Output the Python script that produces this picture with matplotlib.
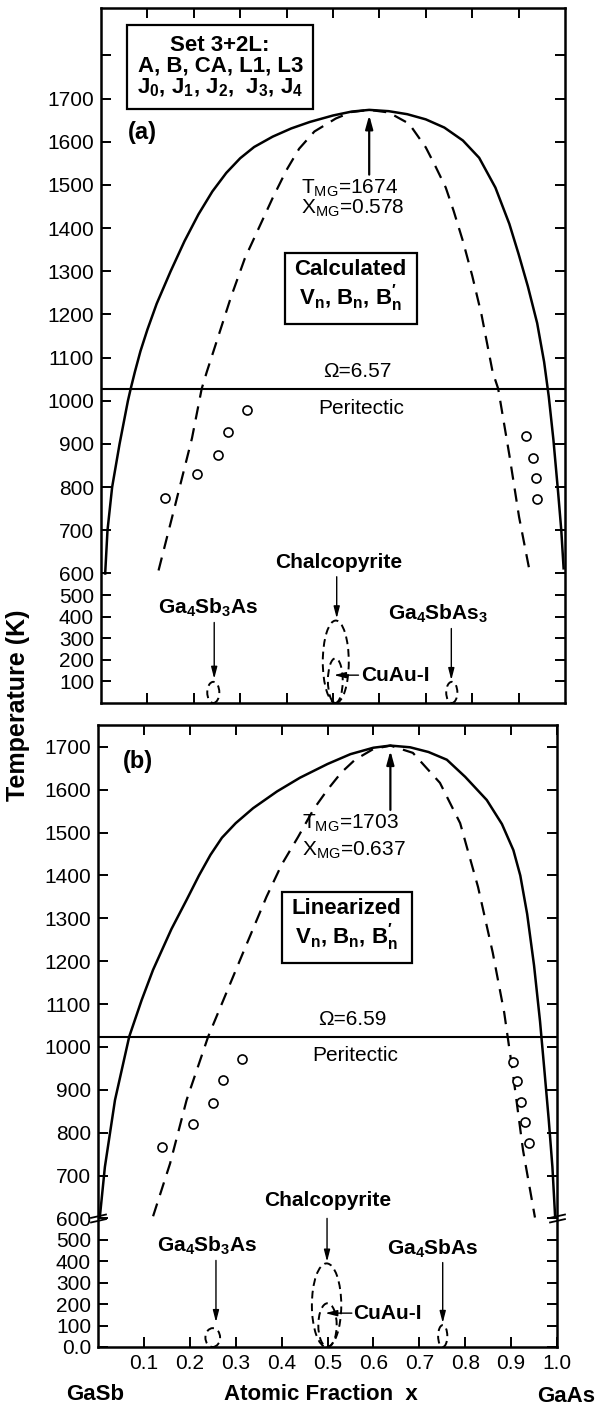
import numpy as np
import matplotlib.pyplot as plt
from matplotlib.patches import Ellipse
from matplotlib.path import Path

plt.rcParams['font.family'] = ['Liberation Sans', 'DejaVu Sans']
plt.rcParams['mathtext.fontset'] = 'custom'
plt.rcParams['mathtext.rm'] = 'Liberation Sans'
plt.rcParams['mathtext.it'] = 'Liberation Sans'
plt.rcParams['mathtext.bf'] = 'Liberation Sans:bold'

# ---- panel (a): calculated V_n, B_n, B'_n ----
a_bin_x = [0.009, 0.014, 0.024, 0.040, 0.058, 0.064, 0.073, 0.085, 0.10, 0.12, 0.15,
           0.18, 0.21, 0.24, 0.27, 0.30, 0.33, 0.37, 0.41, 0.45, 0.50, 0.54, 0.578,
           0.62, 0.66, 0.70, 0.74, 0.78, 0.815, 0.85, 0.88, 0.90, 0.92, 0.94, 0.955,
           0.965, 0.975, 0.985, 0.992, 0.997]
a_bin_T = [600, 700, 800, 900, 1000, 1028, 1067, 1115, 1165, 1225, 1300,
           1370, 1432, 1485, 1528, 1562, 1588, 1612, 1631, 1646, 1661, 1670, 1674,
           1671, 1664, 1652, 1633, 1603, 1563, 1494, 1410, 1340, 1265, 1180, 1090,
           1010, 910, 790, 700, 612]
a_spin_x = [0.124, 0.160, 0.196, 0.217, 0.228, 0.25, 0.28, 0.31, 0.34, 0.37, 0.40,
            0.427, 0.46, 0.506, 0.54, 0.578, 0.62, 0.664, 0.70, 0.72, 0.743, 0.76,
            0.78, 0.80, 0.82, 0.844, 0.856, 0.880, 0.901, 0.925]
a_spin_T = [607, 759, 913, 1028, 1067, 1140, 1240, 1330, 1400, 1470, 1535,
            1584, 1624, 1654, 1669, 1674, 1668, 1642, 1587, 1545, 1494, 1440,
            1370, 1290, 1200, 1067, 1028, 875, 731, 597]
a_exp_x = [0.137, 0.207, 0.253, 0.273, 0.315, 0.916, 0.930, 0.937, 0.939]
a_exp_T = [776, 830, 875, 927, 978, 919, 868, 822, 772]
a_Tmg, a_Xmg = 1674, 0.578
a_omega, a_omega_T = 6.57, 1028
# ordered phases: Ga4Sb3As, chalcopyrite, CuAu-I, Ga4SbAs3
a_loop_x = [0.242, 0.506, 0.505, 0.756]
a_loop_hw = [0.013, 0.028, 0.016, 0.012]
a_loop_top = [98, 382, 207, 98]

# ---- panel (b): linearized V_n, B_n, B'_n ----
b_bin_x = [0.004, 0.015, 0.037, 0.068, 0.095, 0.12, 0.16, 0.193, 0.22, 0.245, 0.27,
           0.30, 0.338, 0.39, 0.44, 0.50, 0.55, 0.60, 0.637, 0.68, 0.72, 0.76, 0.80,
           0.847, 0.88, 0.905, 0.92, 0.935, 0.95, 0.963, 0.973, 0.982, 0.99, 0.996]
b_bin_T = [603, 720, 876, 1024, 1109, 1180, 1275, 1343, 1400, 1448, 1488,
           1522, 1557, 1596, 1628, 1660, 1683, 1698, 1703, 1699, 1688, 1670, 1630,
           1576, 1520, 1459, 1400, 1310, 1190, 1060, 940, 830, 720, 602]
b_spin_x = [0.12, 0.157, 0.193, 0.24, 0.273, 0.32, 0.367, 0.40, 0.436, 0.47, 0.50,
            0.53, 0.56, 0.60, 0.637, 0.686, 0.745, 0.789, 0.828, 0.86, 0.885, 0.905,
            0.926, 0.952]
b_spin_T = [605, 728, 876, 1024, 1109, 1230, 1350, 1425, 1490, 1555, 1600,
            1640, 1670, 1695, 1703, 1686, 1616, 1522, 1373, 1220, 1080, 930,
            759, 602]
b_exp_x = [0.139, 0.208, 0.251, 0.273, 0.314, 0.905, 0.912, 0.922, 0.930, 0.938]
b_exp_T = [767, 821, 870, 922, 971, 965, 920, 872, 826, 775]
b_Tmg, b_Xmg = 1703, 0.637
b_omega, b_omega_T = 6.59, 1024
b_loop_x = [0.25, 0.498, 0.50, 0.751]
b_loop_hw = [0.016, 0.032, 0.02, 0.01]
b_loop_top = [88, 390, 204, 102]

xticks = [0.1, 0.2, 0.3, 0.4, 0.5, 0.6, 0.7, 0.8, 0.9, 1.0]


def fwd(t):
    t = np.asarray(t, float)
    return np.where(t < 600, t / 2.0, t - 300.0)


def inv(s):
    s = np.asarray(s, float)
    return np.where(s < 300, s * 2.0, s + 300.0)


box = dict(boxstyle='square,pad=0.45', fc='white', ec='black', lw=1.6)
arrow_thin = dict(arrowstyle='-|>,head_length=0.7,head_width=0.18', lw=1.0, color='black',
                  shrinkA=0, shrinkB=0)
arrow_thick = dict(arrowstyle='-|>,head_length=0.8,head_width=0.22', lw=1.6, color='black',
                   shrinkA=0, shrinkB=0)
brk = Path([(-1, 0.05), (1, 0.5), (-1, -0.5), (1, -0.05)],
           [Path.MOVETO, Path.LINETO, Path.MOVETO, Path.LINETO])


def draw_panel(ax, bin_x, bin_T, spin_x, spin_T, exp_x, exp_T, Xmg, Tmg,
               omega, omega_T, loop_x, loop_hw, loop_top, ytop):
    ax.set_yscale('function', functions=(fwd, inv))
    ax.set_xlim(0, 1)
    ax.set_ylim(0, ytop)
    ax.plot(bin_x, bin_T, color='black', lw=1.8)
    ax.plot(spin_x, spin_T, color='black', lw=1.6, dashes=(6, 4))
    ax.plot(exp_x, exp_T, 'o', mfc='white', mec='black', ms=6.5, mew=1.2)
    ax.axhline(omega_T, color='black', lw=1.5)
    for xc, hw, top in zip(loop_x, loop_hw, loop_top):
        ax.add_patch(Ellipse((xc, top / 2.0), 2 * hw, top, fill=False, ec='black',
                             lw=1.4, ls=(0, (4, 2.5))))
    ax.annotate('', xy=(Xmg, Tmg - 12), xytext=(Xmg, Tmg - 150), arrowprops=arrow_thick)
    ax.text(0.553, omega_T + 40, '\u03a9=%.2f' % omega, ha='center', va='center',
            fontsize=15)
    ax.text(0.56, omega_T - 45, 'Peritectic', ha='center', va='center', fontsize=15)
    ax.set_xticks(xticks)
    ax.set_xticklabels(['%.1f' % v for v in xticks])
    ax.tick_params(direction='in', length=7, width=1.4, top=True, right=True,
                   labelsize=15, pad=5)
    for s in ax.spines.values():
        s.set_linewidth(1.8)


fig = plt.figure(figsize=(5.97, 14.08), dpi=100)
W, H = 597.0, 1408.0
ax_a = fig.add_axes([101 / W, 1 - 703 / H, 464 / W, 695 / H])
ax_b = fig.add_axes([98 / W, 1 - 1347 / H, 459 / W, 622 / H])

draw_panel(ax_a, a_bin_x, a_bin_T, a_spin_x, a_spin_T, a_exp_x, a_exp_T, a_Xmg, a_Tmg,
           a_omega, a_omega_T, a_loop_x, a_loop_hw, a_loop_top, 1910)
draw_panel(ax_b, b_bin_x, b_bin_T, b_spin_x, b_spin_T, b_exp_x, b_exp_T, b_Xmg, b_Tmg,
           b_omega, b_omega_T, b_loop_x, b_loop_hw, b_loop_top, 1751)

# y ticks
a_yt = [100, 200, 300, 400, 500, 600, 700, 800, 900, 1000, 1100, 1200, 1300, 1400,
        1500, 1600, 1700, 1800]
ax_a.set_yticks(a_yt)
ax_a.set_yticklabels([str(v) if v < 1800 else '' for v in a_yt])
b_yt = [0, 100, 200, 300, 400, 500, 600, 700, 800, 900, 1000, 1100, 1200, 1300, 1400,
        1500, 1600, 1700]
ax_b.set_yticks(b_yt)
ax_b.set_yticklabels(['0.0'] + [str(v) for v in b_yt[1:]])
ax_a.tick_params(labelbottom=False)
ax_a.set_xticks(xticks[:-1])

# break marks on panel (b)
ax_b.plot([0, 1], [600, 600], ls='none', marker=brk, ms=12, mew=1.3, mec='black',
          clip_on=False, transform=ax_b.get_yaxis_transform())

# panel (a) labels
ax_a.text(0.089, 1621, '(a)', fontsize=17, fontweight='bold', ha='center', va='center')
ax_a.text(0.257, 1774, 'Set 3+2L:\nA, B, CA, L1, L3\n'
          '$\\mathbf{J_0}$, $\\mathbf{J_1}$, $\\mathbf{J_2}$,  $\\mathbf{J_3}$, $\\mathbf{J_4}$',
          ha='center', va='center', fontsize=16, fontweight='bold', linespacing=1.0,
          bbox=box)
ax_a.text(0.432, 1492, 'T$_{\\mathrm{MG}}$=%d' % a_Tmg, fontsize=15, ha='left', va='center')
ax_a.text(0.432, 1446, 'X$_{\\mathrm{MG}}$=%.3f' % a_Xmg, fontsize=15, ha='left', va='center')
ax_a.text(0.538, 1265, 'Calculated\n$\\mathbf{V_n}$, $\\mathbf{B_n}$, $\\mathbf{B_n^{\\prime}}$',
          ha='center', va='center', fontsize=16, fontweight='bold', linespacing=1.1, bbox=box)
ax_a.text(0.23, 442, 'Ga$_\\mathbf{4}$Sb$_\\mathbf{3}$As', ha='center', va='center',
          fontsize=15, fontweight='bold')
ax_a.annotate('', xy=(0.244, 112), xytext=(0.244, 373), arrowprops=arrow_thin)
ax_a.text(0.512, 626, 'Chalcopyrite', ha='center', va='center', fontsize=15,
          fontweight='bold')
ax_a.annotate('', xy=(0.508, 392), xytext=(0.508, 585), arrowprops=arrow_thin)
ax_a.text(0.56, 129, 'CuAu-I', ha='left', va='center', fontsize=15, fontweight='bold')
ax_a.annotate('', xy=(0.502, 129), xytext=(0.555, 129), arrowprops=arrow_thin)
ax_a.text(0.726, 415, 'Ga$_\\mathbf{4}$SbAs$_\\mathbf{3}$', ha='center', va='center',
          fontsize=15, fontweight='bold')
ax_a.annotate('', xy=(0.755, 106), xytext=(0.755, 345), arrowprops=arrow_thin)

# panel (b) labels
ax_b.text(0.087, 1667, '(b)', fontsize=17, fontweight='bold', ha='center', va='center')
ax_b.text(0.444, 1522, 'T$_{\\mathrm{MG}}$=%d' % b_Tmg, fontsize=15, ha='left', va='center')
ax_b.text(0.444, 1459, 'X$_{\\mathrm{MG}}$=%.3f' % b_Xmg, fontsize=15, ha='left', va='center')
ax_b.text(0.542, 1284, 'Linearized\n$\\mathbf{V_n}$, $\\mathbf{B_n}$, $\\mathbf{B_n^{\\prime}}$',
          ha='center', va='center', fontsize=16, fontweight='bold', linespacing=1.1, bbox=box)
ax_b.text(0.237, 473, 'Ga$_\\mathbf{4}$Sb$_\\mathbf{3}$As', ha='center', va='center',
          fontsize=15, fontweight='bold')
ax_b.annotate('', xy=(0.257, 116), xytext=(0.257, 404), arrowprops=arrow_thin)
ax_b.text(0.50, 642, 'Chalcopyrite', ha='center', va='center', fontsize=15,
          fontweight='bold')
ax_b.annotate('', xy=(0.499, 398), xytext=(0.499, 600), arrowprops=arrow_thin)
ax_b.text(0.555, 158, 'CuAu-I', ha='left', va='center', fontsize=15, fontweight='bold')
ax_b.annotate('', xy=(0.495, 158), xytext=(0.553, 158), arrowprops=arrow_thin)
ax_b.text(0.728, 459, 'Ga$_\\mathbf{4}$SbAs', ha='center', va='center',
          fontsize=15, fontweight='bold')
ax_b.annotate('', xy=(0.751, 112), xytext=(0.751, 394), arrowprops=arrow_thin)

fig.text(18 / W, 1 - 705 / H, 'Temperature (K)', rotation=90, ha='center', va='center',
         fontsize=18, fontweight='bold')
fig.text(95 / W, 1 - 1395 / H, 'GaSb', ha='center', va='center', fontsize=16,
         fontweight='bold')
fig.text(321 / W, 1 - 1395 / H, 'Atomic Fraction  x', ha='center', va='center',
         fontsize=16, fontweight='bold')
fig.text(566 / W, 1 - 1397 / H, 'GaAs', ha='center', va='center', fontsize=16,
         fontweight='bold')

fig.savefig('out.png', dpi=100)
